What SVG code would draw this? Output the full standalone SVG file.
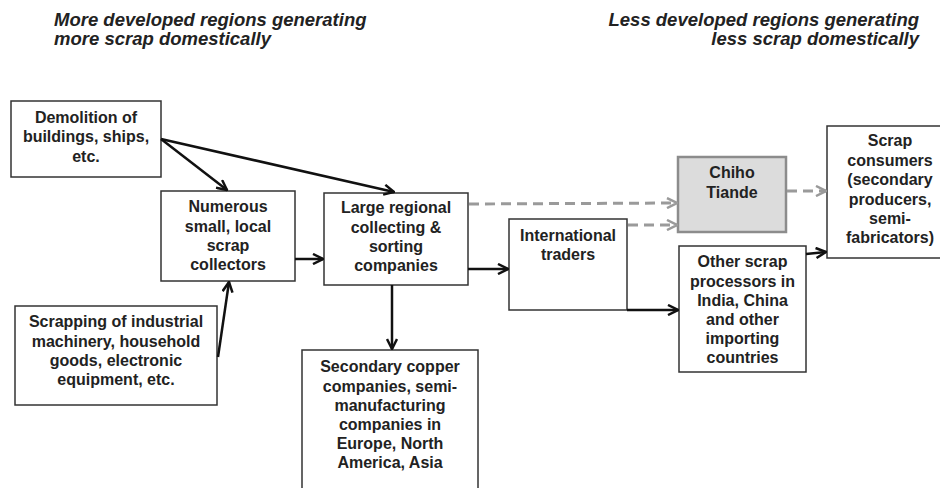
<svg xmlns="http://www.w3.org/2000/svg" width="940" height="488" viewBox="0 0 940 488">
<defs>
<style>
.box{fill:#fff;stroke:#333;stroke-width:1.5}
.hl{fill:#dcdcdc;stroke:#8c8c8c;stroke-width:2.5}
text{font-family:"Liberation Sans",Arial,sans-serif;font-weight:bold;font-size:16px;fill:#222;text-anchor:middle}
.hdr{font-size:18.5px;font-style:italic;text-anchor:start}
.hdr.r{text-anchor:end}
.ln{stroke:#111;stroke-width:2.5;fill:none;marker-end:url(#ah)}
.dl{stroke:#9a9a9a;stroke-width:3;fill:none;stroke-dasharray:10 6;marker-end:url(#ag)}
</style>
<marker id="ah" viewBox="0 0 12 12" refX="11" refY="6" markerWidth="12" markerHeight="12" markerUnits="userSpaceOnUse" orient="auto">
<path d="M1,1 L11,6 L1,11" fill="none" stroke="#111" stroke-width="2.5"/>
</marker>
<marker id="ag" viewBox="0 0 12 12" refX="11" refY="6" markerWidth="12" markerHeight="12" markerUnits="userSpaceOnUse" orient="auto">
<path d="M1,1 L11,6 L1,11" fill="none" stroke="#9a9a9a" stroke-width="2.5"/>
</marker>
</defs>
<rect width="940" height="488" fill="#fff"/>
<g id="headers">
<text class="hdr" x="54" y="26">More developed regions generating</text>
<text class="hdr" x="54" y="45">more scrap domestically</text>
<text class="hdr r" x="919" y="26">Less developed regions generating</text>
<text class="hdr r" x="919" y="45">less scrap domestically</text>
</g>
<g id="demolition">
<rect class="box" x="11" y="101" width="150" height="76"/>
<text x="86" y="122.5">Demolition of</text>
<text x="86" y="142">buildings, ships,</text>
<text x="86" y="161.5">etc.</text>
</g>
<g id="numerous">
<rect class="box" x="161" y="191" width="134" height="90"/>
<text x="228" y="212">Numerous</text>
<text x="228" y="231.5">small, local</text>
<text x="228" y="250.5">scrap</text>
<text x="228" y="269.5">collectors</text>
</g>
<g id="scrapping">
<rect class="box" x="15" y="306" width="202" height="99"/>
<text x="116" y="327">Scrapping of industrial</text>
<text x="116" y="346.5">machinery, household</text>
<text x="116" y="366">goods, electronic</text>
<text x="116" y="384.5">equipment, etc.</text>
</g>
<g id="large">
<rect class="box" x="324" y="193" width="144" height="92"/>
<text x="396" y="213">Large regional</text>
<text x="396" y="233">collecting &amp;</text>
<text x="396" y="252">sorting</text>
<text x="396" y="271">companies</text>
</g>
<g id="secondary">
<rect class="box" x="302" y="350" width="176" height="145"/>
<text x="390" y="372">Secondary copper</text>
<text x="390" y="391.5">companies, semi-</text>
<text x="390" y="411">manufacturing</text>
<text x="390" y="430">companies in</text>
<text x="390" y="449">Europe, North</text>
<text x="390" y="468">America, Asia</text>
</g>
<g id="international">
<rect class="box" x="509" y="219" width="118" height="91"/>
<text x="568" y="241">International</text>
<text x="568" y="260">traders</text>
</g>
<g id="chiho">
<rect class="hl" x="678" y="157" width="108" height="75"/>
<text x="732" y="178">Chiho</text>
<text x="732" y="197.5">Tiande</text>
</g>
<g id="other">
<rect class="box" x="679" y="246" width="127" height="126"/>
<text x="742.5" y="267">Other scrap</text>
<text x="742.5" y="287">processors in</text>
<text x="742.5" y="306">India, China</text>
<text x="742.5" y="325">and other</text>
<text x="742.5" y="344">importing</text>
<text x="742.5" y="363">countries</text>
</g>
<g id="consumers">
<rect class="box" x="827" y="126" width="126" height="132"/>
<text x="890" y="146">Scrap</text>
<text x="890" y="165.5">consumers</text>
<text x="890" y="185">(secondary</text>
<text x="890" y="204.5">producers,</text>
<text x="890" y="224">semi-</text>
<text x="890" y="243">fabricators)</text>
</g>
<g id="connectors">
<path class="ln" d="M161,139 L227,190"/>
<path class="ln" d="M161,139 L394,192"/>
<path class="ln" d="M295,259 L323,259"/>
<path class="ln" d="M218,357 L229,282"/>
<path class="ln" d="M468,269 L508,269"/>
<path class="ln" d="M392,285 L392,349"/>
<path class="ln" d="M627,310 L678,310"/>
<path class="ln" d="M806,254 L826,252"/>
<path class="dl" d="M469,204 L677,203"/>
<path class="dl" d="M628,225 L677,225"/>
<path class="dl" d="M787,191 L826,191"/>
</g>
</svg>
